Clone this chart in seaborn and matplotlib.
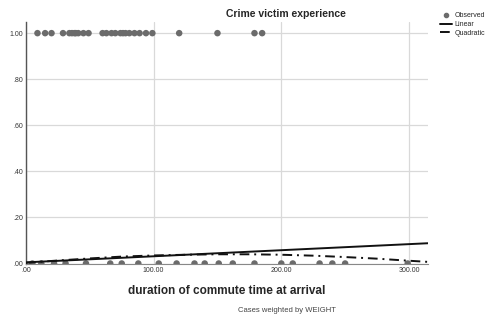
import matplotlib
matplotlib.use("Agg")
import matplotlib.pyplot as plt
import pandas as pd
import seaborn as sns
from matplotlib.lines import Line2D

# observed commute durations (victim = 1.00 / not victim = .00)
victim_x = [9, 15, 20, 29, 34, 36, 38, 39, 41, 45, 49, 60, 63, 67, 70, 74, 76,
            78, 81, 85, 89, 94, 99, 120, 150, 179, 185]
nonvictim_x = [5, 12, 22, 31, 47, 66, 75, 88, 104, 118, 132, 140, 151, 162,
               179, 200, 209, 230, 240, 250, 299]

# fitted curves
linear_x = [0, 315]
linear_y = [0.005, 0.088]
quad_x = [0, 25, 50, 75, 100, 125, 150, 175, 200, 225, 250, 275, 300, 315]
quad_y = [0.003, 0.013, 0.022, 0.030, 0.035, 0.038, 0.040, 0.040, 0.038,
          0.034, 0.028, 0.021, 0.012, 0.007]

y_ticks = [0, 0.2, 0.4, 0.6, 0.8, 1.0]
y_labels = [".00", ".20", ".40", ".60", ".80", "1.00"]
x_ticks = [0, 100, 200, 300]
x_labels = [".00", "100.00", "200.00", "300.00"]

obs = pd.DataFrame({
    "x": victim_x + nonvictim_x,
    "y": [1.0] * len(victim_x) + [0.0] * len(nonvictim_x),
})
lin = pd.DataFrame({"x": linear_x, "y": linear_y})
quad = pd.DataFrame({"x": quad_x, "y": quad_y})

sns.set_style("white")
plt.rcParams["font.family"] = ["Liberation Sans", "DejaVu Sans"]

fig = plt.figure(figsize=(4.94, 3.2), dpi=100)
ax = fig.add_axes([0.0526, 0.1744, 0.814, 0.758])

sns.scatterplot(data=obs, x="x", y="y", ax=ax, color="#6b6b6b", s=22,
                edgecolor="none", zorder=3)
sns.lineplot(data=lin, x="x", y="y", ax=ax, color="#111111", lw=1.4, zorder=4)
sns.lineplot(data=quad, x="x", y="y", ax=ax, color="#111111", lw=1.4,
             dashes=False, zorder=4, linestyle=(0, (5, 2.5, 1, 2.5)))

ax.set_xlim(0, 315)
ax.set_ylim(-0.003, 1.05)
ax.set_xticks(x_ticks)
ax.set_xticklabels(x_labels)
ax.set_yticks(y_ticks)
ax.set_yticklabels(y_labels)
ax.tick_params(labelsize=5, length=0, pad=2, colors="#333333")
ax.grid(True, color="#d9d9d9", lw=0.9)
for s in ["top", "right"]:
    ax.spines[s].set_visible(False)
ax.spines["left"].set_color("#555555")
ax.spines["bottom"].set_color("#888888")
ax.spines["left"].set_linewidth(1.0)
ax.spines["bottom"].set_linewidth(0.8)
ax.set_xlabel("duration of commute time at arrival", fontsize=8.5,
              fontweight="bold", labelpad=8)
ax.set_ylabel("")

fig.text(0.579, 0.955, "Crime victim experience", fontsize=7.5,
         fontweight="bold", ha="center", va="center")
fig.text(0.581, 0.031, "Cases weighted by WEIGHT", fontsize=5.5,
         color="#444444", ha="center", va="center")

handles = [
    Line2D([], [], marker="o", ls="none", color="#6b6b6b", markersize=3),
    Line2D([], [], color="#111111", lw=1.4),
    Line2D([], [], color="#111111", lw=1.4, linestyle=(0, (5, 2.5, 1, 2.5))),
]
fig.legend(handles, ["Observed", "Linear", "Quadratic"], loc="upper left",
           bbox_to_anchor=(0.885, 0.97), frameon=False, fontsize=5,
           handlelength=1.8, handletextpad=0.3, labelspacing=0.25,
           borderaxespad=0)

fig.savefig("out.png", dpi=100)
